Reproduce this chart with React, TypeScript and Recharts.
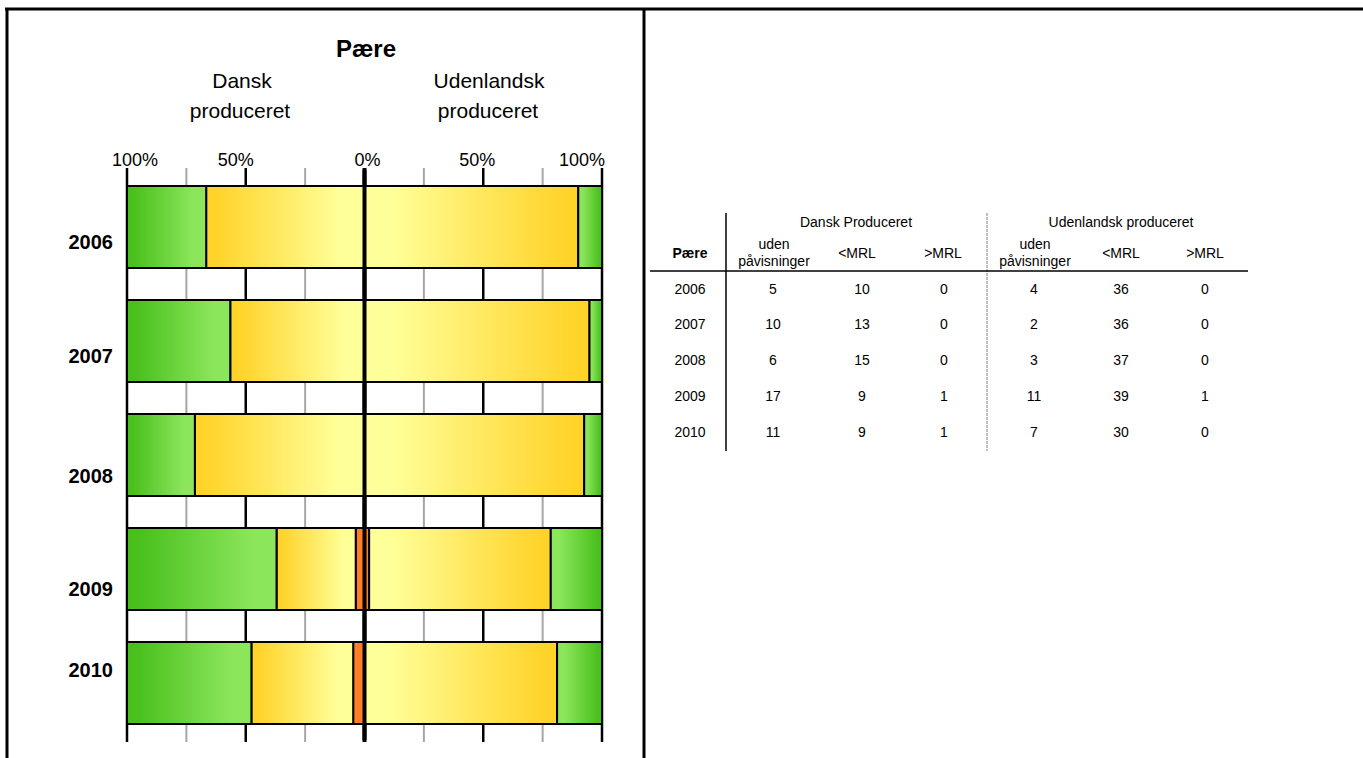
import React from 'react';
import { BarChart, Bar, XAxis, YAxis, CartesianGrid, ReferenceLine } from 'recharts';

const years = ['2006', '2007', '2008', '2009', '2010'];
const danskUden = [5, 10, 6, 17, 11];
const danskUnder = [10, 13, 15, 9, 9];
const danskOver = [0, 0, 0, 1, 1];
const udlUden = [4, 2, 3, 11, 7];
const udlUnder = [36, 36, 37, 39, 30];
const udlOver = [0, 0, 0, 1, 0];
const axisTicks = [-100, -75, -50, -25, 0, 25, 50, 75, 100];
const labeledTicks = [-100, -50, 0, 50, 100];

const data = years.map((year, i) => {
  const dt = danskUden[i] + danskUnder[i] + danskOver[i];
  const ut = udlUden[i] + udlUnder[i] + udlOver[i];
  return {
    year,
    dOver: (-100 * danskOver[i]) / dt,
    dUnder: (-100 * danskUnder[i]) / dt,
    dUden: (-100 * danskUden[i]) / dt,
    uOver: (100 * udlOver[i]) / ut,
    uUnder: (100 * udlUnder[i]) / ut,
    uUden: (100 * udlUden[i]) / ut,
  };
});

const FONT = 'Liberation Sans, Arial, sans-serif';
const PLOT_LEFT = 127;
const PLOT_W = 475;

const topTickNudge: Record<string, number> = { '-100': 8, '-50': -10, '0': 3, '50': -6, '100': -20 };
const yearNudge = [15, 15, 21, 20, -13];

const GridLine = (props: any) => {
  const { x1, y1, x2, y2, index } = props;
  const idx = typeof index === 'number' ? index : Math.round((x1 - PLOT_LEFT) / (PLOT_W / 8));
  const v = axisTicks[idx];
  const major = v % 50 === 0;
  const stroke = major ? '#000' : '#a6a6a6';
  const w = v === 0 ? 4 : major ? 2.5 : 2;
  return <line key={`g${idx}`} x1={x1} x2={x2} y1={y1 - 2} y2={y2 + 2} stroke={stroke} strokeWidth={w} />;
};

const TopTick = (props: any) => {
  const { x, payload } = props;
  const v = payload.value;
  if (!labeledTicks.includes(v)) return null;
  return (
    <text x={x + (topTickNudge[String(v)] || 0)} y={166} textAnchor="middle" fontFamily={FONT} fontSize={18} fill="#000">
      {Math.abs(v)}%
    </text>
  );
};

const YearTick = (props: any) => {
  const { y, payload, index } = props;
  return (
    <text x={113} y={y + (yearNudge[index] || 0)} dy={7} textAnchor="end" fontFamily={FONT} fontSize={20} fontWeight="bold" fill="#000">
      {payload.value}
    </text>
  );
};

const colX1 = [690, 773, 862, 944, 1034, 1121, 1205];
const rowY = [294, 329, 365, 401, 437];
const TF = 14;

export default function App() {
  const tableCols = years.map((y, i) => [y, danskUden[i], danskUnder[i], danskOver[i], udlUden[i], udlUnder[i], udlOver[i]]);
  return (
    <div style={{ position: 'absolute', left: 0, top: 0, width: 1363, height: 758, background: '#fff', fontFamily: FONT }}>
      <div style={{ position: 'absolute', left: 0, top: 0 }}>
        <BarChart
          width={645}
          height={758}
          data={data}
          layout="vertical"
          stackOffset="sign"
          barSize={82}
          margin={{ top: 140, right: 43, bottom: 18, left: 67 }}
        >
          <defs>
            <linearGradient id="greenL" x1="0" y1="0" x2="1" y2="0">
              <stop offset="0" stopColor="#47BE1C" />
              <stop offset="0.1" stopColor="#4BC11F" />
              <stop offset="0.85" stopColor="#8CE65C" />
              <stop offset="1" stopColor="#8CE65C" />
            </linearGradient>
            <linearGradient id="greenR" x1="0" y1="0" x2="1" y2="0">
              <stop offset="0" stopColor="#8CE65C" />
              <stop offset="0.15" stopColor="#8CE65C" />
              <stop offset="0.9" stopColor="#4BC11F" />
              <stop offset="1" stopColor="#47BE1C" />
            </linearGradient>
            <linearGradient id="yellowL" x1="0" y1="0" x2="1" y2="0">
              <stop offset="0" stopColor="#FFD326" />
              <stop offset="0.08" stopColor="#FFD42C" />
              <stop offset="0.85" stopColor="#FFFF99" />
              <stop offset="1" stopColor="#FFFF99" />
            </linearGradient>
            <linearGradient id="yellowR" x1="0" y1="0" x2="1" y2="0">
              <stop offset="0" stopColor="#FFFF99" />
              <stop offset="0.12" stopColor="#FFFF99" />
              <stop offset="0.92" stopColor="#FFD42C" />
              <stop offset="1" stopColor="#FFD326" />
            </linearGradient>
          </defs>
          <CartesianGrid horizontal={false} vertical={GridLine as any} />
          <XAxis
            type="number"
            orientation="top"
            domain={[-100, 100]}
            ticks={axisTicks}
            height={30}
            axisLine={false}
            tickLine={false}
            tick={<TopTick />}
            interval={0}
            allowDataOverflow
          />
          <YAxis
            type="category"
            dataKey="year"
            width={60}
            axisLine={false}
            tickLine={false}
            tick={<YearTick />}
            interval={0}
          />
          <Bar dataKey="dOver" stackId="s" fill="#FF7F27" stroke="#000" strokeWidth={2} isAnimationActive={false} />
          <Bar dataKey="dUnder" stackId="s" fill="url(#yellowL)" stroke="#000" strokeWidth={2} isAnimationActive={false} />
          <Bar dataKey="dUden" stackId="s" fill="url(#greenL)" stroke="#000" strokeWidth={2} isAnimationActive={false} />
          <Bar dataKey="uOver" stackId="s" fill="#FF7F27" stroke="#000" strokeWidth={2} isAnimationActive={false} />
          <Bar dataKey="uUnder" stackId="s" fill="url(#yellowR)" stroke="#000" strokeWidth={2} isAnimationActive={false} />
          <Bar dataKey="uUden" stackId="s" fill="url(#greenR)" stroke="#000" strokeWidth={2} isAnimationActive={false} />
          <ReferenceLine x={0} stroke="#000" strokeWidth={4} ifOverflow="visible" />
        </BarChart>
      </div>
      <svg width={1363} height={758} style={{ position: 'absolute', left: 0, top: 0, pointerEvents: 'none' }}>
        <line x1={5} y1={9} x2={1363} y2={9} stroke="#000" strokeWidth={3} />
        <line x1={7} y1={8} x2={7} y2={758} stroke="#000" strokeWidth={3} />
        <line x1={644} y1={8} x2={644} y2={758} stroke="#000" strokeWidth={3} />
        <text x={366} y={57} textAnchor="middle" fontFamily={FONT} fontSize={24} fontWeight="bold">Pære</text>
        <text x={242} y={88} textAnchor="middle" fontFamily={FONT} fontSize={21}>Dansk</text>
        <text x={240} y={118} textAnchor="middle" fontFamily={FONT} fontSize={21}>produceret</text>
        <text x={489} y={88} textAnchor="middle" fontFamily={FONT} fontSize={21}>Udenlandsk</text>
        <text x={488} y={118} textAnchor="middle" fontFamily={FONT} fontSize={21}>produceret</text>
        <line x1={726} y1={213} x2={726} y2={451} stroke="#000" strokeWidth={1.5} />
        <line x1={987} y1={213} x2={987} y2={451} stroke="#aaa" strokeWidth={1.5} strokeDasharray="3 1" />
        <line x1={650} y1={271} x2={1248} y2={271} stroke="#000" strokeWidth={1.5} />
        <text x={856} y={227} textAnchor="middle" fontFamily={FONT} fontSize={TF}>Dansk Produceret</text>
        <text x={1121} y={227} textAnchor="middle" fontFamily={FONT} fontSize={TF}>Udenlandsk produceret</text>
        <text x={690} y={258} textAnchor="middle" fontFamily={FONT} fontSize={TF} fontWeight="bold">Pære</text>
        {[774, 1035].map((x) => (
          <g key={`h${x}`}>
            <text x={x} y={249} textAnchor="middle" fontFamily={FONT} fontSize={TF}>uden</text>
            <text x={x} y={266} textAnchor="middle" fontFamily={FONT} fontSize={TF}>påvisninger</text>
          </g>
        ))}
        <text x={857} y={258} textAnchor="middle" fontFamily={FONT} fontSize={TF}>&lt;MRL</text>
        <text x={943} y={258} textAnchor="middle" fontFamily={FONT} fontSize={TF}>&gt;MRL</text>
        <text x={1121} y={258} textAnchor="middle" fontFamily={FONT} fontSize={TF}>&lt;MRL</text>
        <text x={1205} y={258} textAnchor="middle" fontFamily={FONT} fontSize={TF}>&gt;MRL</text>
        {tableCols.map((row, r) =>
          row.map((cell, c) => (
            <text key={`c${r}-${c}`} x={colX1[c]} y={rowY[r]} textAnchor="middle" fontFamily={FONT} fontSize={TF}>
              {cell}
            </text>
          ))
        )}
      </svg>
    </div>
  );
}
